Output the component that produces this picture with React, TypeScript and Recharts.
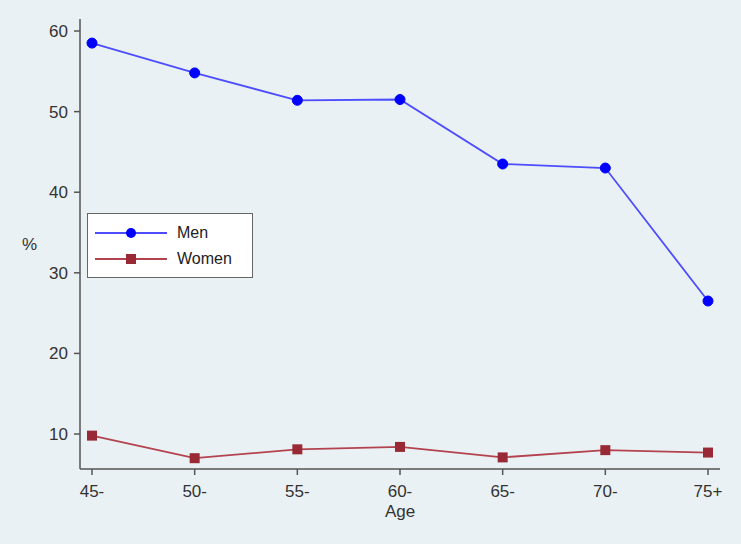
import { Line, LineChart, XAxis, YAxis } from 'recharts'

const ageGroups = ['45-', '50-', '55-', '60-', '65-', '70-', '75+']
const menPct = [58.5, 54.8, 51.4, 51.5, 43.5, 43.0, 26.5]
const womenPct = [9.8, 7.0, 8.1, 8.4, 7.1, 8.0, 7.7]
const yTicks = [10, 20, 30, 40, 50, 60]

const data = ageGroups.map((age, i) => ({ age, men: menPct[i], women: womenPct[i] }))

const BG = '#eaf1f4'
const AXIS = '#555'
const MEN_LINE = '#4d4dff'
const MEN_DOT = '#0000ff'
const WOMEN_LINE = '#b3434f'
const WOMEN_DOT = '#992a35'
const FONT = '"Liberation Sans", Arial, sans-serif'

function SquareDot(props: any) {
  const { cx, cy } = props
  if (cx == null || cy == null) return null
  return <rect x={cx - 5} y={cy - 5} width={10} height={10} fill={WOMEN_DOT} />
}

function LegendBox() {
  const row = (label: string, line: string, marker: React.ReactNode) => (
    <div style={{ display: 'flex', alignItems: 'center', height: 26 }}>
      <svg width={72} height={14} style={{ marginRight: 10 }}>
        <line x1={0} y1={7} x2={72} y2={7} stroke={line} strokeWidth={2} />
        {marker}
      </svg>
      <span style={{ fontSize: 16, color: '#222', fontFamily: FONT }}>{label}</span>
    </div>
  )
  return (
    <div
      style={{
        position: 'absolute',
        left: 87,
        top: 213,
        background: '#fff',
        border: '1px solid #666',
        width: 166,
        height: 65,
        padding: '6px 0 0 7px',
        boxSizing: 'border-box',
      }}
    >
      {row('Men', MEN_LINE, <circle cx={36} cy={7} r={5} fill={MEN_DOT} />)}
      {row('Women', WOMEN_LINE, <rect x={31} y={2} width={10} height={10} fill={WOMEN_DOT} />)}
    </div>
  )
}

export default function App() {
  return (
    <div style={{ position: 'fixed', top: 0, left: 0, width: 741, height: 544, background: BG }}>
      <LineChart
        width={741}
        height={544}
        data={data}
        margin={{ top: 19, right: 21, left: 0, bottom: 0 }}
        style={{ fontFamily: FONT }}
      >
        <XAxis
          dataKey="age"
          padding={{ left: 12, right: 12 }}
          height={75}
          stroke={AXIS}
          strokeWidth={1.5}
          tick={{ fill: '#333', fontSize: 17 }}
          tickSize={6}
          tickMargin={10}
          label={{ value: 'Age', position: 'insideTop', offset: 36, fill: '#333', fontSize: 17 }}
        />
        <YAxis
          type="number"
          domain={[5.66, 61.49]}
          ticks={yTicks}
          allowDataOverflow
          width={80}
          stroke={AXIS}
          strokeWidth={1.5}
          tick={{ fill: '#333', fontSize: 17 }}
          tickSize={6}
          tickMargin={6}
          label={{ value: '%', position: 'insideLeft', offset: 22, fill: '#333', fontSize: 17 }}
        />
        <Line
          dataKey="men"
          name="Men"
          stroke={MEN_LINE}
          strokeWidth={1.8}
          dot={{ r: 5, fill: MEN_DOT, stroke: MEN_DOT, strokeWidth: 1 }}
          activeDot={false}
          isAnimationActive={false}
        />
        <Line
          dataKey="women"
          name="Women"
          stroke={WOMEN_LINE}
          strokeWidth={1.8}
          dot={<SquareDot />}
          activeDot={false}
          isAnimationActive={false}
        />
      </LineChart>
      <LegendBox />
    </div>
  )
}
